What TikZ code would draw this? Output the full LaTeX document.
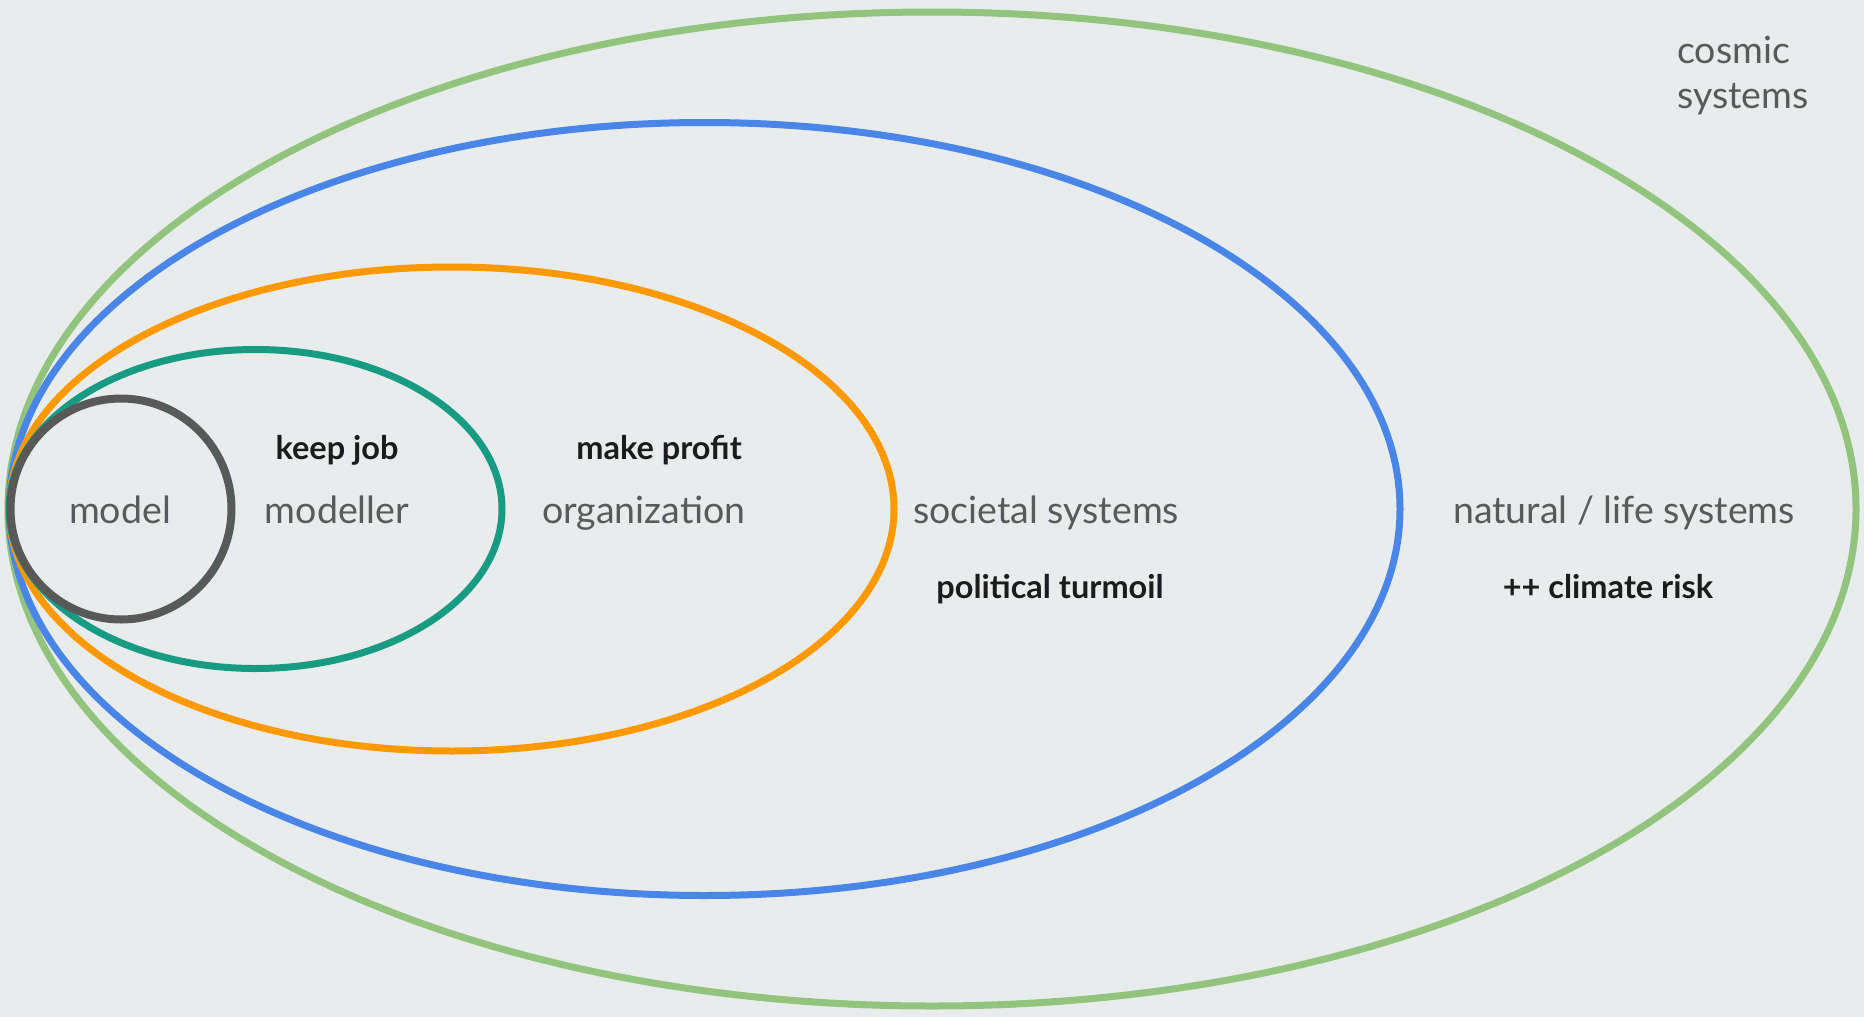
\documentclass[tikz,border=0pt]{standalone}
\usepackage{fontspec}
\setmainfont{Lato}
\definecolor{bgcol}{HTML}{E8ECED}
\definecolor{cosmic}{HTML}{93C47D}
\definecolor{life}{HTML}{4A86E8}
\definecolor{org}{HTML}{FF9900}
\definecolor{team}{HTML}{179B82}
\definecolor{modelgray}{HTML}{595959}
\definecolor{txtgray}{HTML}{5A5A5A}
\definecolor{txtdark}{HTML}{1C1C1C}

\begin{document}
\begin{tikzpicture}[x=1pt, y=-1pt,
  ring/.style={line width=7pt},
  plain/.style={text=txtgray, inner sep=0pt, anchor=base,
    font=\fontsize{37.5}{45}\selectfont},
  strong/.style={text=txtdark, inner sep=0pt, anchor=base,
    font=\bfseries\fontsize{32.5}{38}\selectfont}]
% Background, which also fixes the canvas
\useasboundingbox (0,0) rectangle (1864,1017);
\fill [bgcol] (0,0) rectangle (1864,1017);
% The nested systems, from the outside in
\foreach \cx/\rx/\ry/\col in {
  932/924/497/cosmic,
  704.5/695.5/386.5/life,
  451.5/442.5/242/org,
  255.5/246.5/159.5/team} {
  \draw [ring, \col] (\cx,509) ellipse [x radius=\rx, y radius=\ry];
}
\draw [line width=8pt, modelgray] (121,509) circle (110.5);
% Labels
\node [plain] (model) at (120,523) {model};
\node [plain] (modeller) at (337,523) {modeller};
\node [strong] (keepjob) at (337,459) {keep job};
\node [plain] (organization) at (644,523) {organiza\kern0pt tion};
\node [strong] (profit) at (659,459) {make profit};
\node [plain] (societal) at (1046,523) {societal systems};
\node [strong] (turmoil) at (1050,598) {political turmoil};
\node [plain] (natural) at (1624,523) {natural / life systems};
\node [strong] (climate) at (1608,598) {++ climate risk};
\node [plain, anchor=base west, align=left] (cosmicsys) at (1677,108) {cosmic\\systems};
\end{tikzpicture}
\end{document}
